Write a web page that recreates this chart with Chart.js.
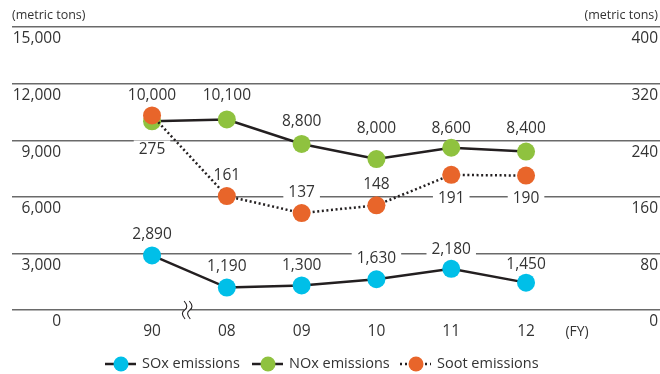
<!DOCTYPE html>
<html>
<head>
<meta charset="utf-8">
<script src="https://cdn.jsdelivr.net/npm/chart.js@4/dist/chart.umd.min.js"></script>
<style>
  html, body { margin: 0; padding: 0; background: #fff; }
  #wrap { width: 660px; height: 374px; }
</style>
</head>
<body>
<div id="wrap"><canvas id="c" width="660" height="374"></canvas></div>
<script>
// Fiscal years on the horizontal axis
const categories = ['90', '08', '09', '10', '11', '12'];
// Emissions, metric tons
const soxValues = [2890, 1190, 1300, 1630, 2180, 1450];
const noxValues = [10000, 10100, 8800, 8000, 8600, 8400];
const sootValues = [275, 161, 137, 148, 191, 190];
// Axis ticks
const leftTicks = [0, 3000, 6000, 9000, 12000, 15000];
const rightTicks = [0, 80, 160, 240, 320, 400];

const seriesNames = ['SOx emissions', 'NOx emissions', 'Soot emissions'];

// Vertical nudge (px) of each value label from its point
const labelShift = {
  sox: [-21, -21, -20, -21, -19, -18],
  nox: [-26, -24, -22, -30, -19, -23],
  soot: [34, -21, -20, -21, 24, 23]
};

const FONT = '"Open Sans", "Noto Sans", sans-serif';
const TEXT = '#333333';
const LINE = '#231f20';
const C_SOX = '#00bfe8';
const C_NOX = '#8fc23f';
const C_SOOT = '#e8652a';

const toPoints = vals => vals.map((v, i) => ({ x: i, y: v }));
const fmt = v => v.toLocaleString('en-US');

function labelBoxes(chart) {
  const out = [];
  const keys = ['sox', 'nox', 'soot'];
  chart.data.datasets.forEach((ds, di) => {
    const meta = chart.getDatasetMeta(di);
    meta.data.forEach((pt, i) => {
      out.push({ x: pt.x, y: pt.y + labelShift[keys[di]][i], text: fmt(ds.data[i].y) });
    });
  });
  return out;
}

const decor = {
  id: 'decor',
  beforeDatasetsDraw(chart) {
    const ctx = chart.ctx;
    const xs = chart.scales.x;
    const ys = chart.scales.y;
    ctx.save();
    ctx.font = '15.5px ' + FONT;
    // white plates under value labels, cutting the grid lines
    labelBoxes(chart).forEach(b => {
      const w = ctx.measureText(b.text).width + 10;
      ctx.fillStyle = '#fff';
      ctx.fillRect(b.x - w / 2, b.y - 9, w, 18);
    });
    // axis break between 90 and 08
    const bx = xs.getPixelForValue(0.47);
    const by = ys.getPixelForValue(0);
    ctx.fillStyle = '#fff';
    ctx.fillRect(bx - 3, by - 3, 6, 6);
    ctx.strokeStyle = LINE;
    ctx.lineWidth = 1.1;
    [-2.6, 2.6].forEach(dx => {
      const x0 = bx + dx;
      ctx.beginPath();
      ctx.moveTo(x0 - 0.5, by - 9);
      ctx.bezierCurveTo(x0 + 3, by - 5, x0 + 3, by - 2, x0, by);
      ctx.bezierCurveTo(x0 - 3, by + 2, x0 - 3, by + 5, x0 + 0.5, by + 9);
      ctx.stroke();
    });
    ctx.restore();
  },
  afterDatasetsDraw(chart) {
    const ctx = chart.ctx;
    ctx.save();
    ctx.font = '15.5px ' + FONT;
    ctx.fillStyle = TEXT;
    ctx.textAlign = 'center';
    ctx.textBaseline = 'middle';
    labelBoxes(chart).forEach(b => ctx.fillText(b.text, b.x, b.y));
    ctx.restore();
  },
  afterDraw(chart) {
    const ctx = chart.ctx;
    const xs = chart.scales.x;
    const yl = chart.scales.y;
    const yr = chart.scales.y2;
    ctx.save();
    ctx.fillStyle = TEXT;
    ctx.textBaseline = 'middle';

    // units
    ctx.font = '12.5px ' + FONT;
    ctx.textAlign = 'left';
    ctx.fillText('(metric tons)', 12, 15);
    ctx.textAlign = 'right';
    ctx.fillText('(metric tons)', 658, 15);

    // tick labels sit just under their grid lines
    ctx.font = '15.5px ' + FONT;
    ctx.textAlign = 'right';
    leftTicks.forEach(t => ctx.fillText(fmt(t), 61, yl.getPixelForValue(t) + 12));
    rightTicks.forEach(t => ctx.fillText(fmt(t), 658, yr.getPixelForValue(t) + 12));

    // categories
    ctx.textAlign = 'center';
    const base = yl.getPixelForValue(0);
    categories.forEach((c, i) => ctx.fillText(c, xs.getPixelForValue(i), base + 22));
    ctx.font = '14px ' + FONT;
    ctx.fillText('(FY)', xs.getPixelForValue(categories.length - 1) + 51, base + 22);

    // legend
    const ly = 364;
    const items = [
      { x: 105, color: C_SOX, dash: [] },
      { x: 252, color: C_NOX, dash: [] },
      { x: 400, color: C_SOOT, dash: [2, 3] }
    ];
    items.forEach((it, k) => {
      ctx.strokeStyle = LINE;
      ctx.lineWidth = 2.5;
      ctx.setLineDash(it.dash);
      ctx.beginPath();
      ctx.moveTo(it.x, ly);
      ctx.lineTo(it.x + 31, ly);
      ctx.stroke();
      ctx.setLineDash([]);
      ctx.fillStyle = it.color;
      ctx.beginPath();
      ctx.arc(it.x + 16, ly, 7.5, 0, Math.PI * 2);
      ctx.fill();
      ctx.fillStyle = TEXT;
      ctx.font = '14.5px ' + FONT;
      ctx.textAlign = 'left';
      ctx.fillText(seriesNames[k], it.x + 37, ly);
    });
    ctx.restore();
  }
};

new Chart(document.getElementById('c'), {
  type: 'line',
  data: {
    datasets: [
      {
        label: seriesNames[0], data: toPoints(soxValues), yAxisID: 'y', order: 2,
        borderColor: LINE, borderWidth: 2.5, pointBackgroundColor: C_SOX,
        pointBorderWidth: 0, pointRadius: 9, tension: 0
      },
      {
        label: seriesNames[1], data: toPoints(noxValues), yAxisID: 'y', order: 1,
        borderColor: LINE, borderWidth: 2.5, pointBackgroundColor: C_NOX,
        pointBorderWidth: 0, pointRadius: 9, tension: 0
      },
      {
        label: seriesNames[2], data: toPoints(sootValues), yAxisID: 'y2', order: 0,
        borderColor: LINE, borderWidth: 2.5, borderDash: [2, 2.6], pointBackgroundColor: C_SOOT,
        pointBorderWidth: 0, pointRadius: 9, tension: 0
      }
    ]
  },
  options: {
    responsive: false,
    devicePixelRatio: 1,
    animation: false,
    events: [],
    layout: { autoPadding: false, padding: { top: 27, left: 12, right: 0, bottom: 64 } },
    plugins: { legend: { display: false }, tooltip: { enabled: false } },
    scales: {
      x: { type: 'linear', display: false, min: -1.872, max: 6.791 },
      y: {
        position: 'left', min: 0, max: 15000,
        afterBuildTicks: s => { s.ticks = leftTicks.map(v => ({ value: v })); },
        afterFit: s => { s.width = 0; },
        ticks: { display: false },
        border: { display: false },
        grid: { color: '#6a6a6a', lineWidth: 1.4, drawTicks: false }
      },
      y2: {
        position: 'right', min: 0, max: 400, display: false
      }
    }
  },
  plugins: [decor]
});
</script>
</body>
</html>
